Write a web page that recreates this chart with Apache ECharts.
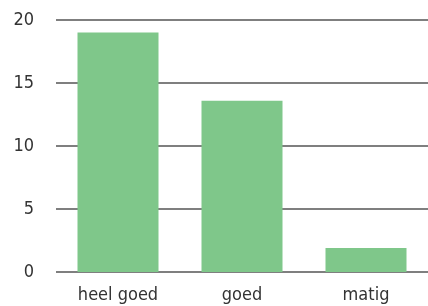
<!DOCTYPE html>
<html><head><meta charset="utf-8">
<script src="https://cdn.jsdelivr.net/npm/echarts@6/dist/echarts.min.js"></script>
<style>html,body{margin:0;padding:0;background:#fff}#c{width:428px;height:306px}</style>
</head><body><div id="c"></div>
<script>
const categories = ['heel goed', 'goed', 'matig'];
const values = [19, 13.6, 1.9];
const yTicks = [0, 5, 10, 15, 20];

const FONT = '"DejaVu Sans Condensed", "Roboto", sans-serif';
const chart = echarts.init(document.getElementById('c'), null, {renderer: 'canvas'});
chart.setOption({
  animation: false,
  grid: {left: 56, right: 0, top: 20, bottom: 34, outerBoundsMode: 'none', containLabel: false},
  xAxis: {
    type: 'category', data: categories,
    axisLine: {show: false}, axisTick: {show: false},
    axisLabel: {color: '#333', fontSize: 18, fontFamily: FONT, margin: 14}
  },
  yAxis: {
    type: 'value', min: yTicks[0], max: yTicks[yTicks.length - 1], interval: 5,
    axisLine: {show: false}, axisTick: {show: false},
    axisLabel: {color: '#333', fontSize: 18, fontFamily: FONT, margin: 22},
    splitLine: {lineStyle: {color: '#555', width: 1.5}}
  },
  series: [{
    type: 'bar', data: values, barWidth: 81,
    itemStyle: {color: '#7fc78a'}
  }]
});
</script></body></html>
